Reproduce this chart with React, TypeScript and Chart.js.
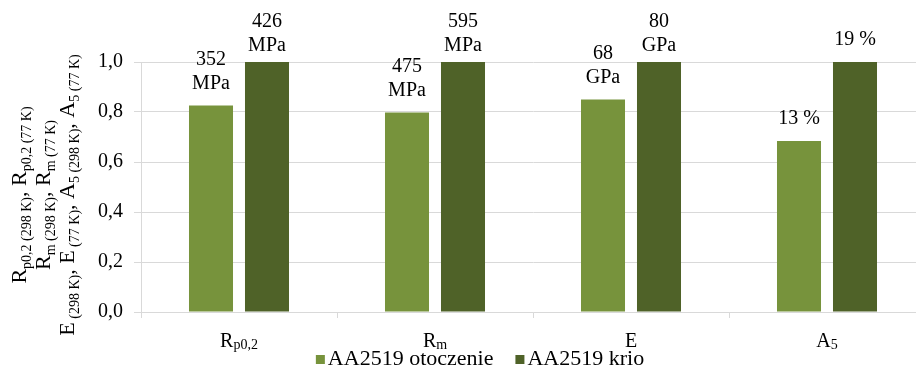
import React, { useEffect, useRef } from "react";
import { Chart, registerables } from "chart.js";

Chart.register(...registerables);

// Category names: base letter + subscript
const categoryBase = ["R", "R", "E", "A"];
const categorySub = ["p0,2", "m", "", "5"];

// Measured properties of AA2519 at room temperature and cryogenic temperature
const ambientValues = [352, 475, 68, 13];
const cryoValues = [426, 595, 80, 19];
const units = ["MPa", "MPa", "GPa", "%"];

const seriesNames = ["AA2519 otoczenie", "AA2519 krio"];
const seriesColors = ["#77933C", "#4F6228"];

const yTicks = [0, 0.2, 0.4, 0.6, 0.8, 1.0];

// Axis title lines, each a list of [text, isSubscript]
const yTitleLines: [string, boolean][][] = [
  [["R", false], ["p0,2 (298 K)", true], [", R", false], ["p0,2 (77 K)", true]],
  [["R", false], ["m (298 K)", true], [", R", false], ["m (77 K)", true]],
  [
    ["E", false], [" (298 K)", true], [", E", false], [" (77 K)", true],
    [", A", false], ["5 (298 K)", true], [", A", false], ["5 (77 K)", true],
  ],
];

const FONT_FAMILY = "'Liberation Serif', 'Times New Roman', serif";
const GRID = "#d9d9d9";

Chart.defaults.font.family = FONT_FAMILY;
Chart.defaults.color = "#000";

// Values relative to the cryogenic result
const ambientRatio = ambientValues.map((v, i) => v / cryoValues[i]);
const cryoRatio = cryoValues.map((v) => v / v);

const labelLines = (v: number, unit: string) =>
  unit === "%" ? [`${v} %`] : [String(v), unit];

type Seg = [string, boolean];

function drawSegments(
  ctx: CanvasRenderingContext2D,
  segs: Seg[],
  cx: number,
  baseline: number,
  mainSize: number,
  subSize: number,
  subShift: number
) {
  const mainFont = `${mainSize}px ${FONT_FAMILY}`;
  const subFont = `${subSize}px ${FONT_FAMILY}`;
  let total = 0;
  const widths = segs.map(([t, sub]) => {
    ctx.font = sub ? subFont : mainFont;
    const w = ctx.measureText(t).width;
    total += w;
    return w;
  });
  let x = cx - total / 2;
  ctx.textAlign = "left";
  ctx.textBaseline = "alphabetic";
  segs.forEach(([t, sub], i) => {
    ctx.font = sub ? subFont : mainFont;
    ctx.fillText(t, x, baseline + (sub ? subShift : 0));
    x += widths[i];
  });
}

const annotations = {
  id: "annotations",
  afterDraw(chart: any) {
    const ctx: CanvasRenderingContext2D = chart.ctx;
    const xScale = chart.scales.x;
    const yScale = chart.scales.y;
    ctx.save();
    ctx.fillStyle = "#000";

    // rotated y-axis title
    const titleCenterY = 195;
    const baselines = [26, 50, 74];
    yTitleLines.forEach((segs, i) => {
      ctx.save();
      ctx.translate(baselines[i], titleCenterY);
      ctx.rotate(-Math.PI / 2);
      drawSegments(ctx, segs, 0, 0, 22, 14, 5);
      ctx.restore();
    });

    // category labels with subscripts
    categoryBase.forEach((b, i) => {
      const segs: Seg[] = [[b, false]];
      if (categorySub[i]) segs.push([categorySub[i], true]);
      drawSegments(ctx, segs, xScale.getPixelForValue(i), 347, 20, 14, 2);
    });

    // value labels above the bars
    const rawSets = [ambientValues, cryoValues];
    ctx.font = `20px ${FONT_FAMILY}`;
    ctx.textAlign = "center";
    ctx.textBaseline = "middle";
    chart.data.datasets.forEach((ds: any, di: number) => {
      const meta = chart.getDatasetMeta(di);
      meta.data.forEach((bar: any, i: number) => {
        const lines = labelLines(rawSets[di][i], units[i]);
        const top = yScale.getPixelForValue(ds.data[i]);
        let last = top - 22;
        let first = last - 24 * (lines.length - 1);
        if (first < 22) {
          last += 22 - first;
          first = 22;
        }
        lines.forEach((l, k) => ctx.fillText(l, bar.x, first + 24 * k));
      });
    });

    // legend row below the axis
    ctx.font = `22px ${FONT_FAMILY}`;
    ctx.textAlign = "left";
    ctx.textBaseline = "alphabetic";
    const box = 9;
    const boxGap = 3;
    const itemGap = 22;
    const items = chart.data.datasets.map((ds: any) => ({
      text: ds.label,
      color: ds.backgroundColor,
      w: box + boxGap + ctx.measureText(ds.label).width,
    }));
    const totalW =
      items.reduce((s: number, it: any) => s + it.w, 0) + itemGap * (items.length - 1);
    let lx = 480 - totalW / 2;
    const baseY = 365;
    items.forEach((it: any) => {
      ctx.fillStyle = it.color;
      ctx.fillRect(lx, baseY - 10, box, box);
      ctx.fillStyle = "#000";
      ctx.fillText(it.text, lx + box + boxGap, baseY);
      lx += it.w + itemGap;
    });

    ctx.restore();
  },
};

export default function App() {
  const canvasRef = useRef<HTMLCanvasElement>(null);

  useEffect(() => {
    const canvas = canvasRef.current;
    if (!canvas) return;
    const chart = new Chart(canvas, {
      type: "bar",
      data: {
        labels: categoryBase.map((b, i) => b + categorySub[i]),
        datasets: [
          {
            label: seriesNames[0],
            data: ambientRatio,
            backgroundColor: seriesColors[0],
            categoryPercentage: 0.5714,
            barPercentage: 0.786,
          },
          {
            label: seriesNames[1],
            data: cryoRatio,
            backgroundColor: seriesColors[1],
            categoryPercentage: 0.5714,
            barPercentage: 0.786,
          },
        ],
      },
      options: {
        animation: false,
        responsive: true,
        maintainAspectRatio: false,
        layout: { padding: { left: 0, right: 19, top: 62, bottom: 0 } },
        plugins: {
          legend: { display: false },
          tooltip: { enabled: false },
        },
        scales: {
          x: {
            grid: {
              offset: true,
              drawOnChartArea: false,
              drawTicks: true,
              tickLength: 6,
              color: GRID,
            },
            border: { color: GRID },
            ticks: { display: false },
            afterFit: (scale: any) => {
              scale.height = 56;
            },
          },
          y: {
            min: 0,
            max: 1,
            grid: { color: GRID, tickLength: 7 },
            border: { color: GRID },
            afterBuildTicks: (scale: any) => {
              scale.ticks = yTicks.map((v) => ({ value: v }));
            },
            ticks: {
              color: "#000",
              padding: 11,
              font: { family: FONT_FAMILY, size: 20 },
              callback: (v: any) => Number(v).toFixed(1).replace(".", ","),
            },
            afterFit: (scale: any) => {
              scale.width = 141;
            },
          },
        },
      },
      plugins: [annotations],
    });
    return () => chart.destroy();
  }, []);

  return (
    <div
      style={{
        position: "fixed",
        left: 0,
        top: 0,
        width: 916,
        height: 368,
        overflow: "hidden",
        background: "#fff",
      }}
    >
      <div style={{ position: "relative", width: 944, height: 368 }}>
        <canvas ref={canvasRef} />
      </div>
    </div>
  );
}
